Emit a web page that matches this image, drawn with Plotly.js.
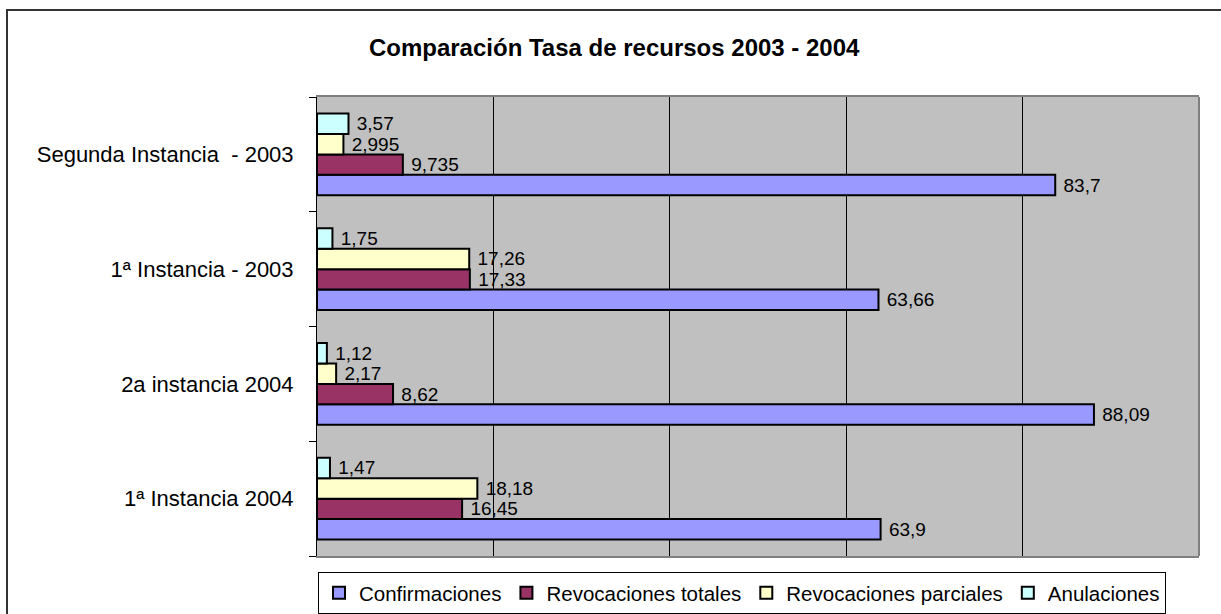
<!DOCTYPE html>
<html>
<head>
<meta charset="utf-8">
<script src="https://cdn.plot.ly/plotly-3.0.1.min.js"></script>
<style>
html,body{margin:0;padding:0;background:#fff;}
#chart{width:1221px;height:614px;}
</style>
</head>
<body>
<div id="chart"></div>
<script>
const categories = ["1ª Instancia 2004", "2a instancia 2004", "1ª Instancia - 2003", "Segunda Instancia \u00a0- 2003"];
const confirmaciones = [63.9, 88.09, 63.66, 83.7];
const revocacionesTotales = [16.45, 8.62, 17.33, 9.735];
const revocacionesParciales = [18.18, 2.17, 17.26, 2.995];
const anulaciones = [1.47, 1.12, 1.75, 3.57];
const seriesNames = ["Confirmaciones", "Revocaciones totales", "Revocaciones parciales", "Anulaciones"];
const seriesColors = ["#9999FF", "#993366", "#FFFFCC", "#CCFFFF"];
const seriesValues = [confirmaciones, revocacionesTotales, revocacionesParciales, anulaciones];

const FONT = "Liberation Sans, Arial, sans-serif";
const fmt = v => '\u00a0' + String(v).replace('.', ',');

const traces = seriesValues.map((vals, i) => ({
  type: 'bar',
  orientation: 'h',
  name: seriesNames[i],
  y: categories,
  x: vals,
  text: vals.map(fmt),
  textposition: 'outside',
  constraintext: 'none',
  cliponaxis: false,
  textfont: {family: FONT, size: 19, color: '#000'},
  marker: {color: seriesColors[i], line: {color: '#000', width: 2}},
  hoverinfo: 'none'
}));

const L = 317, R = 22, T = 97, B = 58;
const W = 1221 - L - R, H = 614 - T - B;
const px = x => (x - L) / W;
const py = y => (614 - B - y) / H;

const layout = {
  width: 1221, height: 614,
  margin: {l: L, r: R, t: T, b: B, pad: 0, autoexpand: false},
  paper_bgcolor: '#fff',
  plot_bgcolor: '#C0C0C0',
  font: {family: FONT, size: 19, color: '#000'},
  title: {text: '<b>Comparación Tasa de recursos 2003 - 2004</b>', font: {family: FONT, size: 24, color: '#000'},
          xref: 'container', x: 0.503, xanchor: 'center', yref: 'container', y: 1 - 48/614, yanchor: 'middle'},
  barmode: 'group',
  bargap: 0.287,
  bargroupgap: 0,
  showlegend: true,
  legend: {orientation: 'h', xref: 'container', x: 318/1221, xanchor: 'left', yref: 'container', y: 1 - 572/614, yanchor: 'top',
           bordercolor: '#000', borderwidth: 1, bgcolor: '#fff', traceorder: 'normal',
           itemwidth: 30, tracegroupgap: 0,
           font: {family: FONT, size: 20.5, color: '#000'}},
  xaxis: {range: [0, 100], dtick: 20, tick0: 0, showticklabels: false, ticks: '',
          showgrid: true, gridcolor: '#000', gridwidth: 1, zeroline: false,
          showline: true, linecolor: '#808080', linewidth: 2, mirror: true, fixedrange: true},
  yaxis: {type: 'category', showgrid: false, zeroline: false,
          showline: true, linecolor: '#000', linewidth: 1,
          ticks: 'outside', ticklen: 7, tickcolor: '#000', tickwidth: 1, tickson: 'boundaries',
          ticklabelstandoff: 18,
          tickfont: {family: FONT, size: 22, color: '#000'}, fixedrange: true},
  shapes: [
    {type: 'line', xref: 'paper', yref: 'paper', x0: 1, x1: 1, y0: 0, y1: 1, line: {color: '#808080', width: 2}},
    {type: 'rect', xref: 'paper', yref: 'paper', x0: px(7), x1: px(1226), y0: py(10), y1: py(620),
     line: {color: '#333', width: 2}, layer: 'below'}
  ]
};

Plotly.newPlot('chart', traces, layout, {displayModeBar: false, staticPlot: true});
</script>
</body>
</html>
